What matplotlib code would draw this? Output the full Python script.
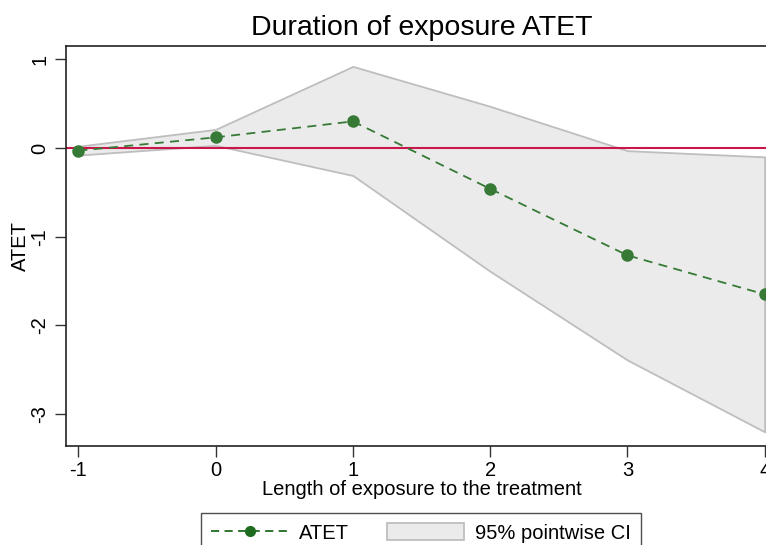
import matplotlib
matplotlib.use("Agg")
import matplotlib.pyplot as plt
from matplotlib.lines import Line2D
from matplotlib.patches import Patch

plt.rcParams['font.family'] = ['Liberation Sans', 'DejaVu Sans']

# exposure length and estimates
exposure = [-1, 0, 1, 2, 3, 4]
atet = [-0.03, 0.12, 0.30, -0.46, -1.21, -1.65]
ci_upper = [0.02, 0.21, 0.92, 0.47, -0.03, -0.10]
ci_lower = [-0.08, 0.03, -0.31, -1.39, -2.39, -3.20]
y_ticks = [1, 0, -1, -2, -3]
x_ticks = [-1, 0, 1, 2, 3, 4]

green = "#367a36"
leg_green = "#1f6b1f"
fill_col = "#ebebeb"
edge_col = "#bebebe"
zero_col = "#c8174a"

fig = plt.figure(figsize=(7.66, 5.45), dpi=100)
ax = fig.add_axes([66 / 766, 99 / 545, 711 / 766, 400 / 545])

ax.fill_between(exposure, ci_lower, ci_upper, facecolor=fill_col,
                edgecolor=edge_col, linewidth=1.3, zorder=1)
ax.axhline(0, color=zero_col, linewidth=1.5, zorder=2)
ax.plot(exposure, atet, color=green, linestyle=(0, (5, 3.5)), linewidth=1.3,
        marker="o", markersize=8, markerfacecolor=green,
        markeredgecolor=green, zorder=3, clip_on=False)

ax.set_xlim(-1.09, 4.09)
ax.set_ylim(-3.36, 1.15)
ax.set_xticks(x_ticks)
ax.set_xticklabels([str(v) for v in x_ticks])
ax.set_yticks(y_ticks)
ax.set_yticklabels([str(v) for v in y_ticks], rotation=90, va="center")
ax.tick_params(axis="both", labelsize=14.5, length=8, width=1, color="#333333")
ax.tick_params(axis="x", pad=3)
ax.tick_params(axis="y", pad=4)
for sp in ax.spines.values():
    sp.set_linewidth(1.2)
    sp.set_color("#222222")

ax.set_title("Duration of exposure ATET", fontsize=20.5, pad=8)
ax.set_xlabel("Length of exposure to the treatment", fontsize=14.5, labelpad=0)
ax.set_ylabel("ATET", fontsize=14.5, labelpad=0)

handles = [
    Line2D([0], [0], color=leg_green, linestyle=(0, (4.5, 3)), linewidth=1.3,
           marker="o", markersize=7, markerfacecolor=leg_green,
           markeredgecolor=leg_green),
    Patch(facecolor=fill_col, edgecolor=edge_col, linewidth=1.3),
]
leg = fig.legend(handles, ["ATET", "95% pointwise CI"], loc="upper center",
                 bbox_to_anchor=(421 / 766, 1 - 513 / 545), ncol=2,
                 fontsize=14.5, frameon=True, fancybox=False, handlelength=3.8,
                 handleheight=0.95, handletextpad=0.55, columnspacing=1.9,
                 borderpad=0.5, borderaxespad=0)
leg.get_frame().set_edgecolor("#222222")
leg.get_frame().set_linewidth(1.0)

fig.savefig("out.png", dpi=100)
